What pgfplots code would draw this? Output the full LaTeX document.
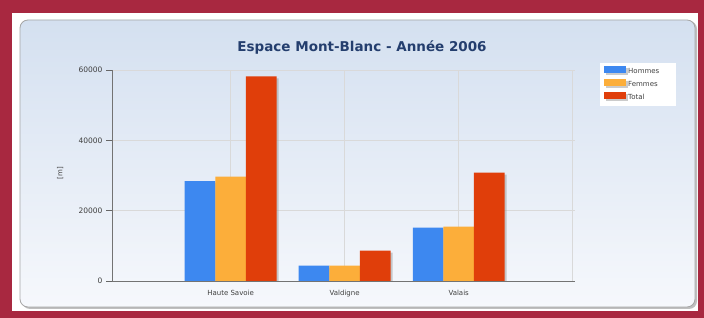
\documentclass[border=0pt]{standalone}
\usepackage{pgfplots}
\pgfplotsset{compat=1.18}
\usepackage{fontspec}
\setmainfont{DejaVu Sans}
\newfontfamily\titlefont{DejaVu Sans}
\definecolor{frame}{RGB}{168,40,64}
\definecolor{cblue}{RGB}{61,136,240}
\definecolor{corange}{RGB}{252,174,58}
\definecolor{cred}{RGB}{224,62,10}
\definecolor{ctitle}{RGB}{36,62,110}
\definecolor{panelTop}{RGB}{212,224,240}
\definecolor{panelBot}{RGB}{246,248,252}
\begin{document}
\begin{tikzpicture}[x=1pt,y=1pt]
\useasboundingbox (0,0) rectangle (704,318);
\fill[frame] (0,0) rectangle (704,318);
\fill[white] (12,7) rectangle (698,305);
\fill[black!25,rounded corners=8pt] (22,9) rectangle (697,297);
\shade[top color=panelTop,bottom color=panelBot,draw=black!35,rounded corners=8pt,line width=0.8pt] (20,11) rectangle (695,298);
\begin{axis}[
  at={(112pt,37pt)}, anchor=south west,
  scale only axis, width=463pt, height=211pt,
  xmin=-1.04, xmax=3.02, ymin=0, ymax=60000,
  ybar=0pt, bar width=30.6pt,
  axis x line*=bottom, axis y line*=left,
  axis line style={black!55, line width=0.8pt},
  xtick={0,1,2,3}, xticklabels={Haute Savoie,Valdigne,Valais,{}},
  ytick={0,20000,40000,60000},
  scaled y ticks=false,
  /pgf/number format/assume math mode=true,
  tick label style={font=\fontsize{7}{8}\selectfont, text=black!75},
  yticklabel style={font=\fontsize{7.5}{8}\selectfont, /pgf/number format/.cd,set thousands separator={},fixed},
  tick align=outside,
  major tick length=6pt,
  tick style={black!60, line width=0.6pt},
  xtick style={draw=none},
  grid=major, major grid style={black!15, line width=0.6pt},
  ylabel={[m]}, ylabel style={at={(axis description cs:-0.112,0.51)}, anchor=center, font=\fontsize{7}{8}\selectfont, text=black!75},
  title={Espace Mont-Blanc - Année 2006},
  title style={at={(axis description cs:0.54,1.08)}, anchor=center, font=\titlefont\bfseries\fontsize{13.5}{15}\selectfont, text=ctitle},
  legend style={at={(1,1)}, anchor=north west, xshift=25pt, yshift=7pt, draw=none, fill=white,
     font=\fontsize{7}{8}\selectfont, text=black!75, inner xsep=4pt, inner ysep=3pt, row sep=2pt},
  legend cell align=left,
  legend image code/.code={\fill[#1] (0pt,-1.5pt) rectangle (22pt,5.5pt);},
  every axis plot/.append style={draw=none},
]
\addplot[fill=cblue, preaction={fill=black!40, opacity=0.5, transform canvas={xshift=2pt,yshift=-2pt}}] coordinates {(0,28400) (1,4350) (2,15150)};
\addplot[fill=corange, preaction={fill=black!40, opacity=0.5, transform canvas={xshift=2pt,yshift=-2pt}}] coordinates {(0,29700) (1,4350) (2,15450)};
\addplot[fill=cred, preaction={fill=black!40, opacity=0.5, transform canvas={xshift=2pt,yshift=-2pt}}] coordinates {(0,58200) (1,8650) (2,30800)};
\legend{\makebox[42pt][l]{Hommes},\makebox[42pt][l]{Femmes},\makebox[42pt][l]{Total}}
\end{axis}
\end{tikzpicture}
\end{document}
